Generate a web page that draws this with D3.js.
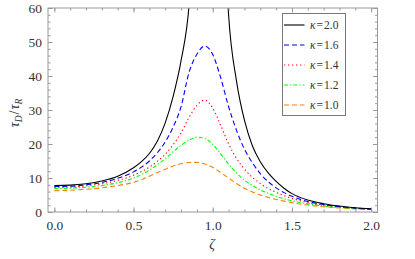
<!DOCTYPE html>
<html>
<head>
<meta charset="utf-8">
<script src="https://cdn.jsdelivr.net/npm/d3@7"></script>
<style>
  body { margin: 0; background: #fff; }
  svg text { font-family: "Liberation Serif", "DejaVu Serif", serif; }
</style>
</head>
<body>
<div id="chart"></div>
<script>
// zeta grid the curves were read at
const zeta = [0, 0.1, 0.2, 0.3, 0.4, 0.5, 0.55, 0.6, 0.65, 0.7, 0.75, 0.8, 0.85, 0.9, 0.95, 1.0, 1.05, 1.1, 1.15, 1.2, 1.25, 1.3, 1.35, 1.4, 1.45, 1.5, 1.6, 1.7, 1.8, 1.9, 2.0];

// tau_D / tau_R for each kappa (null = far off the top of the plot)
const k20 = [7.8, 7.9, 8.3, 9.1, 10.5, 13.0, 14.8, 17.2, 20.8, 26.2, 34.0, 44.5, 60.5, 100, null, null, 110, 58, 38.5, 27, 19.5, 14.8, 11.5, 9.0, 7.0, 5.4, 3.5, 2.45, 1.75, 1.25, 0.92];
const k16 = [7.5, 7.6, 8.0, 8.7, 9.9, 11.8, 13.2, 15.0, 17.4, 20.6, 25.0, 31.0, 41.0, 46.4, 48.8, 46.3, 39.5, 31.0, 24.0, 18.5, 14.5, 11.3, 8.9, 7.1, 5.7, 4.6, 3.1, 2.2, 1.6, 1.15, 0.85];
const k14 = [7.2, 7.3, 7.7, 8.3, 9.3, 10.8, 11.9, 13.2, 14.9, 17.0, 19.8, 23.3, 27.8, 31.4, 32.9, 30.5, 25.5, 20.0, 15.8, 12.6, 10.2, 8.4, 6.9, 5.8, 4.8, 4.0, 2.8, 2.0, 1.45, 1.1, 0.82];
const k12 = [6.9, 7.0, 7.3, 7.8, 8.6, 10.0, 11.0, 12.3, 13.9, 15.7, 17.7, 19.6, 21.1, 22.0, 21.6, 19.9, 17.1, 14.1, 11.5, 9.4, 7.8, 6.5, 5.5, 4.6, 3.9, 3.3, 2.4, 1.8, 1.35, 1.03, 0.8];
const k10 = [6.3, 6.4, 6.7, 7.1, 7.8, 8.7, 9.5, 10.5, 11.6, 12.6, 13.5, 14.2, 14.55, 14.6, 14.1, 13.1, 11.6, 10.0, 8.4, 7.0, 5.9, 5.0, 4.3, 3.7, 3.2, 2.75, 2.05, 1.55, 1.2, 0.93, 0.72];

const seriesNames = ["\u03BA=2.0", "\u03BA=1.6", "\u03BA=1.4", "\u03BA=1.2", "\u03BA=1.0"];
const seriesValues = [k20, k16, k14, k12, k10];
const seriesColors = ["#000000", "#0000ff", "#ff0000", "#00ff00", "#ff8000"];
const seriesDash = [null, "5,3", "1.3,2.7", "4,2,1.3,2", "5,3"];

const xTicks = [0, 0.5, 1.0, 1.5, 2.0];
const yTicks = [0, 10, 20, 30, 40, 50, 60];

const width = 415, height = 259;
const plotLeft = 48, plotRight = 377.5, plotTop = 8, plotBottom = 212;

const svg = d3.select("#chart")
    .append("svg")
    .attr("width", width)
    .attr("height", height)
    .attr("font-family", "Liberation Serif, serif");

const x = d3.scaleLinear().domain([-0.04, 2.04]).range([plotLeft, plotRight]);
const y = d3.scaleLinear().domain([0, 60]).range([plotBottom, plotTop]);

svg.append("clipPath").attr("id", "clip")
    .append("rect")
    .attr("x", plotLeft).attr("y", plotTop)
    .attr("width", plotRight - plotLeft).attr("height", plotBottom - plotTop);

// curves
const line = d3.line()
    .defined(d => d[1] != null)
    .x(d => x(d[0]))
    .y(d => y(d[1]))
    .curve(d3.curveMonotoneX);

const plot = svg.append("g").attr("clip-path", "url(#clip)");
seriesValues.slice().reverse().forEach((vals, j) => {
    const i = seriesValues.length - 1 - j;
    plot.append("path")
        .datum(zeta.map((z, k) => [z, vals[k]]))
        .attr("fill", "none")
        .attr("stroke", seriesColors[i])
        .attr("stroke-width", 1.1)
        .attr("stroke-dasharray", seriesDash[i])
        .attr("d", line);
});

// frame with inward ticks on all four sides
const frameColor = "#999";
const labelColor = "#333";
const axes = svg.append("g");

axes.append("g")
    .attr("transform", `translate(0, ${plotBottom})`)
    .call(d3.axisBottom(x).tickValues(d3.range(0, 2.01, 0.1)).tickSize(-2.5).tickFormat(""));
axes.append("g")
    .attr("transform", `translate(0, ${plotBottom})`)
    .call(d3.axisBottom(x).tickValues(xTicks).tickSize(-4.5).tickPadding(8).tickFormat(d3.format(".1f")));
axes.append("g")
    .attr("transform", `translate(0, ${plotTop})`)
    .call(d3.axisTop(x).tickValues(d3.range(0, 2.01, 0.1)).tickSize(-2.5).tickFormat(""));
axes.append("g")
    .attr("transform", `translate(0, ${plotTop})`)
    .call(d3.axisTop(x).tickValues(xTicks).tickSize(-4.5).tickFormat(""));

axes.append("g")
    .attr("transform", `translate(${plotLeft}, 0)`)
    .call(d3.axisLeft(y).tickValues(d3.range(0, 61, 2)).tickSize(-2.5).tickFormat(""));
axes.append("g")
    .attr("transform", `translate(${plotLeft}, 0)`)
    .call(d3.axisLeft(y).tickValues(yTicks).tickSize(-4.5).tickPadding(6).tickFormat(d3.format("d")));
axes.append("g")
    .attr("transform", `translate(${plotRight}, 0)`)
    .call(d3.axisRight(y).tickValues(d3.range(0, 61, 2)).tickSize(-2.5).tickFormat(""));
axes.append("g")
    .attr("transform", `translate(${plotRight}, 0)`)
    .call(d3.axisRight(y).tickValues(yTicks).tickSize(-4.5).tickFormat(""));

axes.selectAll("g").attr("font-family", null);
axes.selectAll(".domain").remove();
axes.selectAll(".tick line").attr("stroke", frameColor);
axes.selectAll(".tick text")
    .attr("fill", labelColor)
    .style("font-size", "13.5px");

svg.append("rect")
    .attr("x", plotLeft).attr("y", plotTop)
    .attr("width", plotRight - plotLeft).attr("height", plotBottom - plotTop)
    .attr("fill", "none")
    .attr("stroke", frameColor)
    .attr("stroke-width", 1);

// axis titles
svg.append("text")
    .attr("x", 212).attr("y", 249)
    .attr("text-anchor", "middle")
    .attr("fill", labelColor)
    .style("font-size", "14px")
    .style("font-style", "italic")
    .text("\u03B6");

const yLab = svg.append("text")
    .attr("transform", `translate(19, 113) rotate(-90)`)
    .attr("text-anchor", "middle")
    .attr("fill", labelColor)
    .style("font-size", "14px");
yLab.append("tspan").style("font-style", "italic").text("\u03C4");
yLab.append("tspan").attr("dy", 3).style("font-size", "9.5px").style("font-style", "italic").text("D");
yLab.append("tspan").attr("dy", -3).attr("dx", 1).text("/");
yLab.append("tspan").attr("dx", 1).style("font-style", "italic").text("\u03C4");
yLab.append("tspan").attr("dy", 3).style("font-size", "9.5px").style("font-style", "italic").text("R");

// legend
const legend = svg.append("g");
legend.append("rect")
    .attr("x", 282.5).attr("y", 13.5)
    .attr("width", 63).attr("height", 102)
    .attr("fill", "#fff")
    .attr("stroke", "#777")
    .attr("stroke-width", 1);

seriesNames.forEach((name, i) => {
    const ly = 25 + i * 20;
    legend.append("line")
        .attr("x1", 284).attr("x2", 304.5)
        .attr("y1", ly).attr("y2", ly)
        .attr("stroke", seriesColors[i])
        .attr("stroke-width", 1.1)
        .attr("stroke-dasharray", seriesDash[i]);
    const t = legend.append("text")
        .attr("x", 310).attr("y", ly + 4)
        .attr("fill", labelColor)
        .style("font-size", "11.5px");
    t.append("tspan").style("font-style", "italic").text(name.slice(0, 1));
    t.append("tspan").attr("dx", 1).text("=");
    t.append("tspan").attr("dx", 1).text(name.slice(2));
});
</script>
</body>
</html>
